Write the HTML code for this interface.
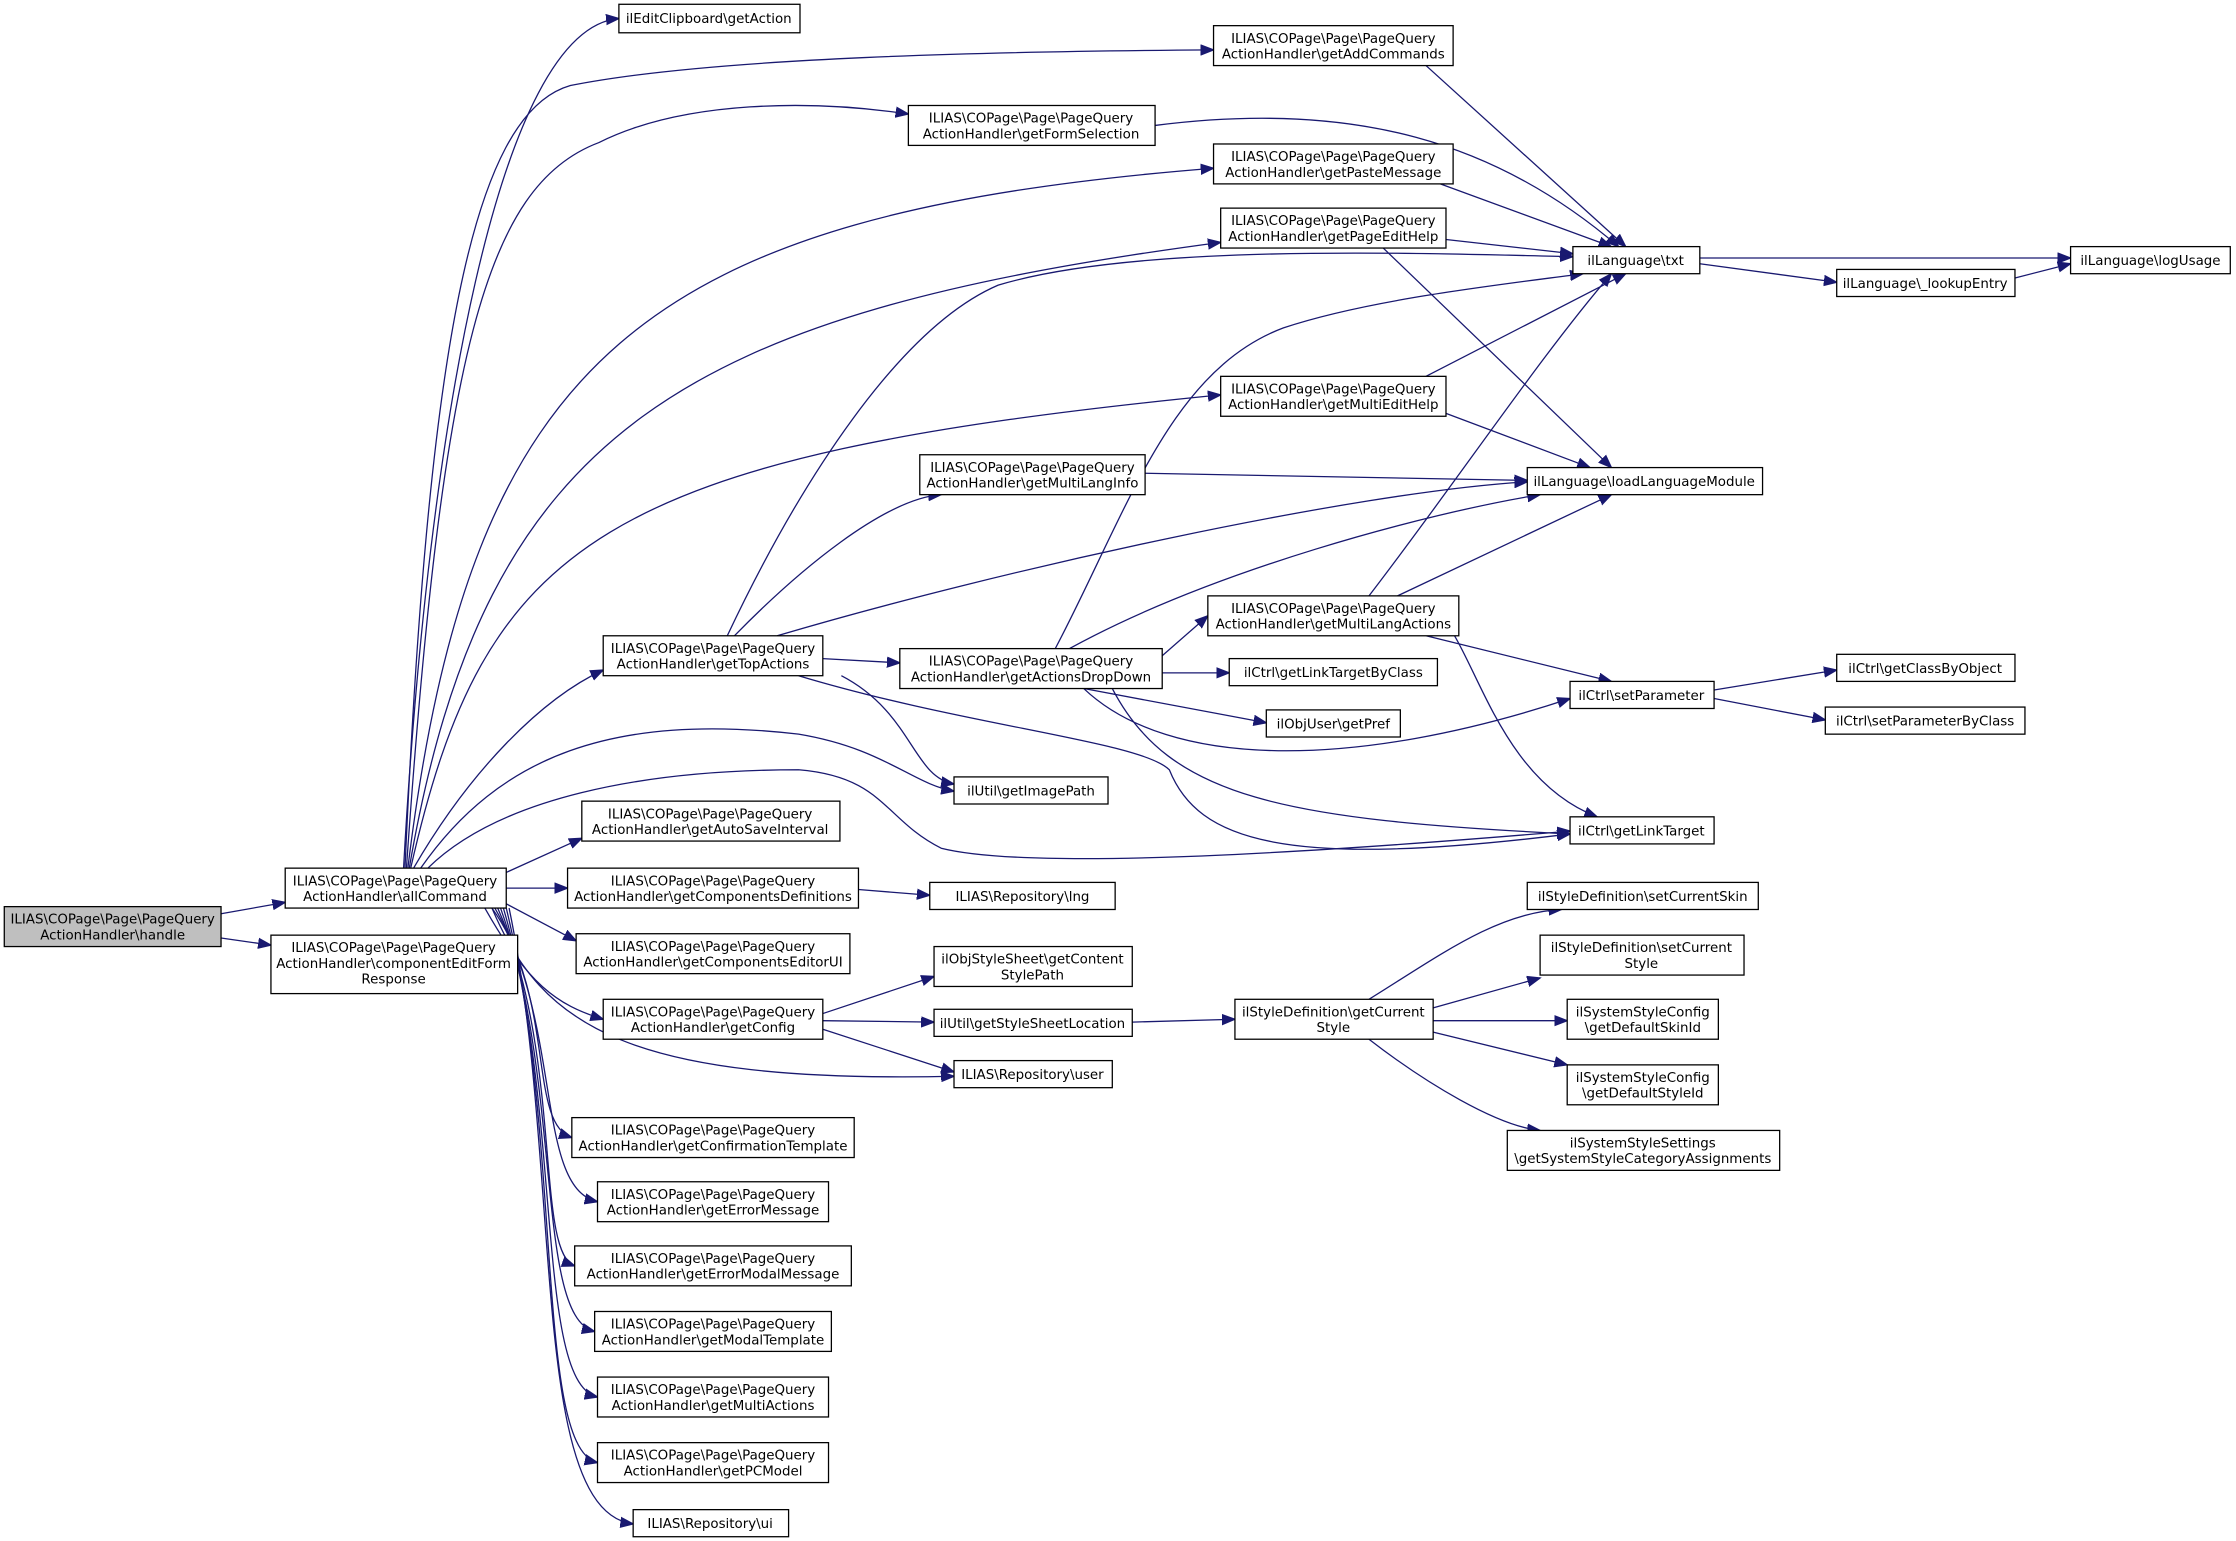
<!DOCTYPE html>
<html><head><meta charset="utf-8"><style>
html,body{margin:0;padding:0;background:#fff}
svg{display:block}
text{font-family:"DejaVu Sans","Liberation Sans",sans-serif;font-size:9.4px;fill:#000;text-anchor:middle}
rect{fill:#fff;stroke:#000;stroke-width:0.9}
path{fill:none;stroke:#191970;stroke-width:0.9}
</style></head><body>
<svg width="2236" height="1541" viewBox="0 0 1568 1081" preserveAspectRatio="none" xmlns="http://www.w3.org/2000/svg">
<defs><marker id="a" markerUnits="userSpaceOnUse" markerWidth="10" markerHeight="8" refX="9" refY="4" orient="auto"><path d="M0,0.5 L9,4 L0,7.5 Z" style="fill:#191970;stroke:#191970"/></marker></defs>
<g marker-end="url(#a)">
<path d="M155,641 L200,633"/>
<path d="M155,658 L190,663"/>
<path d="M283,609 C300,300 350,20 434,13"/>
<path d="M284,609 C300,250 330,80 400,60 C500,40 700,36 851,35"/>
<path d="M285,609 C310,250 340,130 420,100 C480,70 570,70 637,80"/>
<path d="M286,609 C330,250 450,150 851,118"/>
<path d="M287,609 C340,300 480,220 856,170"/>
<path d="M288,609 C340,380 420,320 856,277"/>
<path d="M290,609 C330,540 380,490 423,470"/>
<path d="M295,609 C350,530 430,500 560,515 C620,525 640,550 669,555"/>
<path d="M300,609 C350,560 450,540 560,540 C620,545 620,575 660,595 C720,610 900,600 1101,583"/>
<path d="M355,612 L408,588"/>
<path d="M355,623 L398,623"/>
<path d="M355,634 L404,660"/>
<path d="M340,637 C370,690 390,705 423,715"/>
<path d="M345,637 C380,720 440,760 669,755"/>
<path d="M345,637 C390,700 370,788 401,798"/>
<path d="M347,637 C395,720 375,833 419,843"/>
<path d="M349,637 C395,740 375,878 403,888"/>
<path d="M351,637 C395,760 375,924 417,934"/>
<path d="M353,637 C395,780 375,970 419,980"/>
<path d="M355,637 C395,800 375,1016 419,1026"/>
<path d="M357,637 C395,820 370,1060 444,1069"/>
<path d="M510,446 C560,340 630,230 700,200 C800,170 1000,178 1103,180"/>
<path d="M515,446 C560,400 620,350 660,347"/>
<path d="M545,446 C700,400 950,345 1071,338"/>
<path d="M577,462 L631,465"/>
<path d="M590,474 C640,500 640,545 669,550"/>
<path d="M560,474 C680,510 800,520 820,540 C840,590 900,610 1101,585"/>
<path d="M740,455 C790,360 820,260 900,230 C960,210 1050,200 1110,192"/>
<path d="M750,455 C850,400 1000,360 1080,347"/>
<path d="M815,460 L847,432"/>
<path d="M815,472 L862,472"/>
<path d="M760,483 L888,507"/>
<path d="M760,483 C820,540 950,540 1101,490"/>
<path d="M780,483 C820,560 900,575 1101,585"/>
<path d="M960,418 C1020,340 1080,250 1130,192"/>
<path d="M980,418 L1130,347"/>
<path d="M1000,446 L1130,478"/>
<path d="M1020,446 C1040,480 1060,550 1120,573"/>
<path d="M1000,46 L1140,173"/>
<path d="M810,88 C950,70 1050,100 1135,173"/>
<path d="M1010,129 L1130,173"/>
<path d="M1014,168 L1103,178"/>
<path d="M970,174 L1130,328"/>
<path d="M1000,264 L1140,192"/>
<path d="M1014,290 L1115,328"/>
<path d="M803,332 L1071,337"/>
<path d="M1192,181 L1452,181"/>
<path d="M1192,185 L1288,198"/>
<path d="M1413,195 L1452,185"/>
<path d="M1202,484 L1288,470"/>
<path d="M1202,490 L1280,505"/>
<path d="M602,624 L652,628"/>
<path d="M577,711 L655,685"/>
<path d="M577,716 L655,717"/>
<path d="M577,722 L669,752"/>
<path d="M794,717 L866,715"/>
<path d="M960,701 C1010,670 1050,640 1095,638"/>
<path d="M1005,707 L1080,686"/>
<path d="M1005,716 L1099,716"/>
<path d="M1005,724 L1099,747"/>
<path d="M960,729 C1000,760 1050,790 1080,793"/>
</g>
<rect x="3" y="636" width="152" height="28" style="fill:#bfbfbf"/><text x="79" y="648">ILIAS\COPage\Page\PageQuery</text><text x="79" y="659">ActionHandler\handle</text>
<rect x="200" y="609" width="155" height="28"/><text x="277" y="621">ILIAS\COPage\Page\PageQuery</text><text x="277" y="632">ActionHandler\allCommand</text>
<rect x="190" y="656" width="173" height="41"/><text x="276" y="668">ILIAS\COPage\Page\PageQuery</text><text x="276" y="679">ActionHandler\componentEditForm</text><text x="276" y="690">Response</text>
<rect x="434" y="3" width="127" height="20"/><text x="497" y="16">ilEditClipboard\getAction</text>
<rect x="851" y="18" width="168" height="28"/><text x="935" y="30">ILIAS\COPage\Page\PageQuery</text><text x="935" y="41">ActionHandler\getAddCommands</text>
<rect x="637" y="74" width="173" height="28"/><text x="723" y="86">ILIAS\COPage\Page\PageQuery</text><text x="723" y="97">ActionHandler\getFormSelection</text>
<rect x="851" y="101" width="168" height="28"/><text x="935" y="113">ILIAS\COPage\Page\PageQuery</text><text x="935" y="124">ActionHandler\getPasteMessage</text>
<rect x="856" y="146" width="158" height="28"/><text x="935" y="158">ILIAS\COPage\Page\PageQuery</text><text x="935" y="169">ActionHandler\getPageEditHelp</text>
<rect x="1103" y="173" width="89" height="19"/><text x="1147" y="186">ilLanguage\txt</text>
<rect x="1452" y="173" width="112" height="19"/><text x="1508" y="186">ilLanguage\logUsage</text>
<rect x="1288" y="189" width="125" height="19"/><text x="1350" y="202">ilLanguage\_lookupEntry</text>
<rect x="856" y="264" width="158" height="28"/><text x="935" y="276">ILIAS\COPage\Page\PageQuery</text><text x="935" y="287">ActionHandler\getMultiEditHelp</text>
<rect x="645" y="319" width="158" height="28"/><text x="724" y="331">ILIAS\COPage\Page\PageQuery</text><text x="724" y="342">ActionHandler\getMultiLangInfo</text>
<rect x="1071" y="328" width="165" height="19"/><text x="1153" y="341">ilLanguage\loadLanguageModule</text>
<rect x="847" y="418" width="176" height="28"/><text x="935" y="430">ILIAS\COPage\Page\PageQuery</text><text x="935" y="441">ActionHandler\getMultiLangActions</text>
<rect x="423" y="446" width="154" height="28"/><text x="500" y="458">ILIAS\COPage\Page\PageQuery</text><text x="500" y="469">ActionHandler\getTopActions</text>
<rect x="631" y="455" width="184" height="28"/><text x="723" y="467">ILIAS\COPage\Page\PageQuery</text><text x="723" y="478">ActionHandler\getActionsDropDown</text>
<rect x="862" y="462" width="146" height="19"/><text x="935" y="475">ilCtrl\getLinkTargetByClass</text>
<rect x="1101" y="478" width="101" height="19"/><text x="1151" y="491">ilCtrl\setParameter</text>
<rect x="1288" y="459" width="125" height="19"/><text x="1350" y="472">ilCtrl\getClassByObject</text>
<rect x="1280" y="496" width="140" height="19"/><text x="1350" y="509">ilCtrl\setParameterByClass</text>
<rect x="888" y="498" width="94" height="19"/><text x="935" y="511">ilObjUser\getPref</text>
<rect x="669" y="545" width="108" height="19"/><text x="723" y="558">ilUtil\getImagePath</text>
<rect x="1101" y="573" width="101" height="19"/><text x="1151" y="586">ilCtrl\getLinkTarget</text>
<rect x="408" y="562" width="181" height="28"/><text x="498" y="574">ILIAS\COPage\Page\PageQuery</text><text x="498" y="585">ActionHandler\getAutoSaveInterval</text>
<rect x="398" y="609" width="204" height="28"/><text x="500" y="621">ILIAS\COPage\Page\PageQuery</text><text x="500" y="632">ActionHandler\getComponentsDefinitions</text>
<rect x="652" y="619" width="130" height="19"/><text x="717" y="632">ILIAS\Repository\lng</text>
<rect x="404" y="655" width="192" height="28"/><text x="500" y="667">ILIAS\COPage\Page\PageQuery</text><text x="500" y="678">ActionHandler\getComponentsEditorUI</text>
<rect x="1071" y="619" width="162" height="19"/><text x="1152" y="632">ilStyleDefinition\setCurrentSkin</text>
<rect x="1080" y="656" width="143" height="28"/><text x="1151" y="668">ilStyleDefinition\setCurrent</text><text x="1151" y="679">Style</text>
<rect x="655" y="664" width="139" height="28"/><text x="724" y="676">ilObjStyleSheet\getContent</text><text x="724" y="687">StylePath</text>
<rect x="423" y="701" width="154" height="28"/><text x="500" y="713">ILIAS\COPage\Page\PageQuery</text><text x="500" y="724">ActionHandler\getConfig</text>
<rect x="655" y="708" width="139" height="19"/><text x="724" y="721">ilUtil\getStyleSheetLocation</text>
<rect x="866" y="701" width="139" height="28"/><text x="935" y="713">ilStyleDefinition\getCurrent</text><text x="935" y="724">Style</text>
<rect x="1099" y="701" width="106" height="28"/><text x="1152" y="713">ilSystemStyleConfig</text><text x="1152" y="724">\getDefaultSkinId</text>
<rect x="669" y="744" width="111" height="19"/><text x="724" y="757">ILIAS\Repository\user</text>
<rect x="1099" y="747" width="106" height="28"/><text x="1152" y="759">ilSystemStyleConfig</text><text x="1152" y="770">\getDefaultStyleId</text>
<rect x="401" y="784" width="198" height="28"/><text x="500" y="796">ILIAS\COPage\Page\PageQuery</text><text x="500" y="807">ActionHandler\getConfirmationTemplate</text>
<rect x="1057" y="793" width="191" height="28"/><text x="1152" y="805">ilSystemStyleSettings</text><text x="1152" y="816">\getSystemStyleCategoryAssignments</text>
<rect x="419" y="829" width="162" height="28"/><text x="500" y="841">ILIAS\COPage\Page\PageQuery</text><text x="500" y="852">ActionHandler\getErrorMessage</text>
<rect x="403" y="874" width="194" height="28"/><text x="500" y="886">ILIAS\COPage\Page\PageQuery</text><text x="500" y="897">ActionHandler\getErrorModalMessage</text>
<rect x="417" y="920" width="166" height="28"/><text x="500" y="932">ILIAS\COPage\Page\PageQuery</text><text x="500" y="943">ActionHandler\getModalTemplate</text>
<rect x="419" y="966" width="162" height="28"/><text x="500" y="978">ILIAS\COPage\Page\PageQuery</text><text x="500" y="989">ActionHandler\getMultiActions</text>
<rect x="419" y="1012" width="162" height="28"/><text x="500" y="1024">ILIAS\COPage\Page\PageQuery</text><text x="500" y="1035">ActionHandler\getPCModel</text>
<rect x="444" y="1059" width="109" height="19"/><text x="498" y="1072">ILIAS\Repository\ui</text>
</svg>
</body></html>
